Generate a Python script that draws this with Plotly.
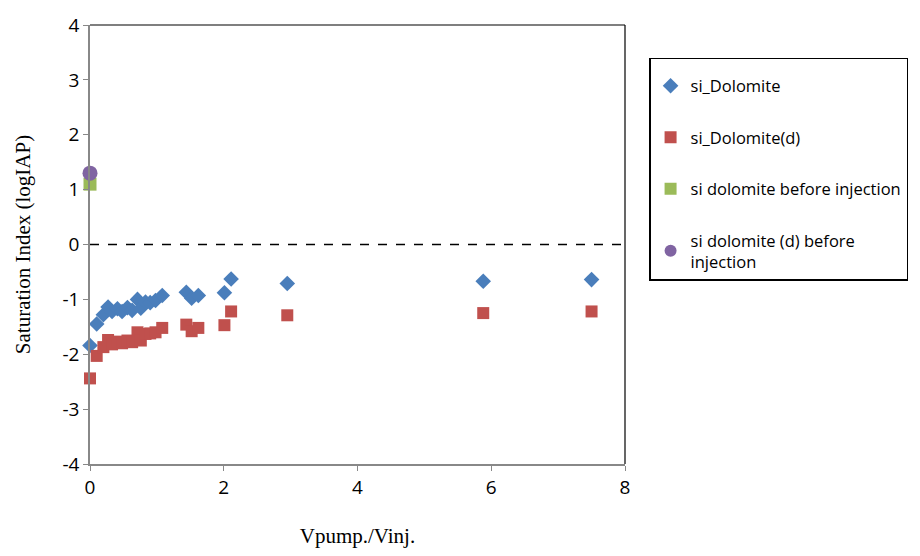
import plotly.graph_objects as go

x_vals = [0, 0.1, 0.2, 0.27, 0.33, 0.41, 0.48, 0.56, 0.63, 0.71, 0.76, 0.83, 0.9, 0.98, 1.08,
          1.44, 1.52, 1.62, 2.01, 2.11, 2.95, 5.88, 7.5]
si_dolomite = [-1.84, -1.45, -1.28, -1.14, -1.22, -1.17, -1.22, -1.15, -1.2, -1.0, -1.16, -1.05,
               -1.06, -1.02, -0.93, -0.87, -0.98, -0.93, -0.88, -0.63, -0.71, -0.67, -0.64]
si_dolomite_d = [-2.44, -2.03, -1.87, -1.74, -1.82, -1.77, -1.8, -1.75, -1.78, -1.6, -1.75, -1.63,
                 -1.62, -1.6, -1.52, -1.46, -1.58, -1.52, -1.47, -1.22, -1.29, -1.25, -1.22]
before_x = [0]
si_before = [1.1]
si_d_before = [1.3]
zero_x = [0, 8]
zero_y = [0, 0]
x_ticks = [0, 2, 4, 6, 8]
y_ticks = [-4, -3, -2, -1, 0, 1, 2, 3, 4]
y_ticktext = [str(v) for v in y_ticks]

fig = go.Figure()
fig.add_trace(go.Scatter(x=zero_x, y=zero_y, mode="lines", showlegend=False,
                         line=dict(color="black", width=1.3, dash="dash"), hoverinfo="skip"))
fig.add_trace(go.Scatter(x=x_vals, y=si_dolomite, mode="markers", name="si_Dolomite",
                         legendgroup="a", cliponaxis=False,
                         marker=dict(symbol="diamond", size=12, color="#4a7ebb")))
fig.add_trace(go.Scatter(x=x_vals, y=si_dolomite_d, mode="markers", name="si_Dolomite(d)",
                         legendgroup="b", cliponaxis=False,
                         marker=dict(symbol="square", size=12, color="#c0504d")))
fig.add_trace(go.Scatter(x=before_x, y=si_before, mode="markers", name="si dolomite before injection",
                         legendgroup="c", cliponaxis=False,
                         marker=dict(symbol="square", size=13, color="#9bbb59")))
fig.add_trace(go.Scatter(x=before_x, y=si_d_before, mode="markers", name="si dolomite (d) before<br>injection",
                         legendgroup="d", cliponaxis=False,
                         marker=dict(symbol="circle", size=15, color="#8064a2")))

fig.update_layout(
    width=920, height=556,
    margin=dict(l=90, r=294, t=17, b=90),
    plot_bgcolor="white", paper_bgcolor="white",
    showlegend=True,
    legend=dict(x=1.045, y=0.925, xanchor="left", yanchor="top",
                bordercolor="black", borderwidth=1.5,
                title=dict(text=" ", font=dict(size=7)),
                font=dict(family="Open Sans", size=16.5, color="black"),
                tracegroupgap=27, itemsizing="constant", itemwidth=30),
    xaxis=dict(range=[0, 8], tickvals=x_ticks, showgrid=False, zeroline=False,
               showline=True, linecolor="#888888", linewidth=1.5,
               ticks="outside", ticklen=5, tickcolor="#888888",
               tickfont=dict(family="Open Sans", size=19, color="black"),
               title=dict(text="Vpump./Vinj.", font=dict(family="Liberation Serif", size=21, color="black"),
                          standoff=30)),
    yaxis=dict(range=[-4, 4], tickvals=y_ticks, ticktext=y_ticktext, showgrid=False, zeroline=False,
               showline=True, linecolor="#888888", linewidth=1.5,
               ticks="outside", ticklen=5, tickcolor="#888888",
               tickfont=dict(family="Open Sans", size=19, color="black"),
               title=dict(text="Saturation Index (logIAP)", font=dict(family="Liberation Serif", size=21, color="black"),
                          standoff=26)),
)
fig.add_shape(type="line", xref="paper", yref="paper", x0=0, x1=1, y0=1, y1=1,
              line=dict(color="black", width=1.2))
fig.add_shape(type="line", xref="paper", yref="paper", x0=1, x1=1, y0=0, y1=1,
              line=dict(color="black", width=1.2))
fig.write_html("out.html")
